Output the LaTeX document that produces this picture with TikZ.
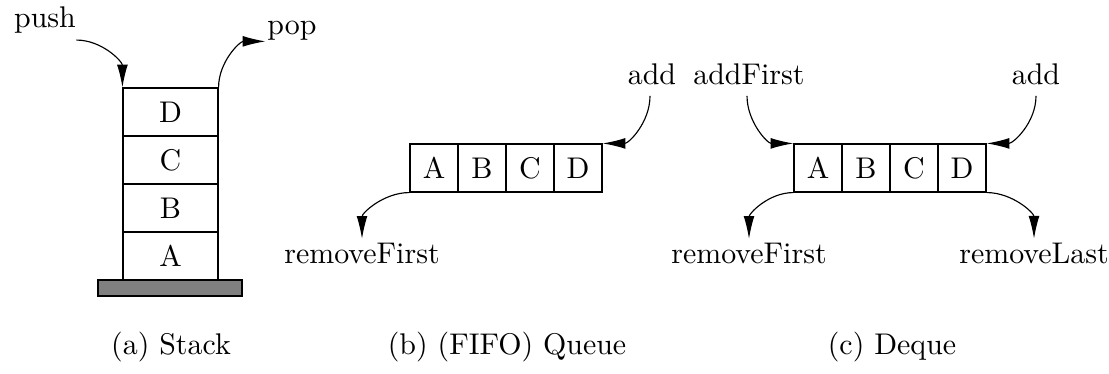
\documentclass[tikz,border=0pt]{standalone}
\usetikzlibrary{arrows.meta}
\begin{document}
\begin{tikzpicture}[x=0.351pt,y=0.351pt,
  every node/.style={font=\fontsize{10.5pt}{12.6pt}\selectfont},
  scell/.style={draw,inner sep=0pt,minimum width=33.35pt,minimum height=16.85pt},
  qcell/.style={draw,inner sep=0pt,minimum width=16.85pt,minimum height=16.85pt},
  lbl/.style={inner sep=1pt,anchor=base},
  arr/.style={-{Latex[length=8pt,width=3.8pt]}}]
\useasboundingbox (0,0) rectangle (1109,374);
% Stack
\node[scell] (sA) at (170.5,118) {A};
\node[scell] (sB) at (170.5,166) {B};
\node[scell] (sC) at (170.5,214) {C};
\node[scell] (sD) at (170.5,262) {D};
\node[draw,fill=gray,inner sep=0pt,minimum width=50.5pt,minimum height=5.6pt] (base) at (170,86) {};
\node[lbl] (push) at (45,346) {push};
\node[lbl] (pop) at (292,339) {pop};
\draw[arr] ([xshift=-1pt,yshift=-1pt]push.south east) to[out=0,in=90] (sD.north west);
\draw[arr] (sD.north east) to[out=90,in=180] ([xshift=0.5pt,yshift=1pt]pop.south west);
% Queue
\node[qcell] (qA) at (434,206) {A};
\node[qcell] (qB) at (482,206) {B};
\node[qcell] (qC) at (530,206) {C};
\node[qcell] (qD) at (578,206) {D};
\node[lbl] (qadd) at (652,289) {add};
\node[lbl] (qrem) at (362,110) {removeFirst};
\draw[arr] ([xshift=-0.7pt,yshift=-2.5pt]qadd.south) to[out=-90,in=0] (qD.north east);
\draw[arr] (qA.south west) to[out=180,in=90] ([yshift=0.5pt]qrem.north);
% Deque
\node[qcell] (dA) at (818,206) {A};
\node[qcell] (dB) at (866,206) {B};
\node[qcell] (dC) at (914,206) {C};
\node[qcell] (dD) at (962,206) {D};
\node[lbl] (dfirst) at (749,289) {addFirst};
\node[lbl] (dadd) at (1036,289) {add};
\node[lbl] (drf) at (749,110) {removeFirst};
\node[lbl] (drl) at (1034,110) {removeLast};
\draw[arr] ([xshift=-0.7pt,yshift=-2.5pt]dfirst.south) to[out=-90,in=180] (dA.north west);
\draw[arr] ([yshift=-2.5pt]dadd.south) to[out=-90,in=0] (dD.north east);
\draw[arr] (dA.south west) to[out=180,in=90] ([yshift=0.5pt]drf.north);
\draw[arr] (dD.south east) to[out=0,in=90] ([yshift=0.5pt]drl.north);
% Captions
\node[lbl] (capa) at (171,19) {(a) Stack};
\node[lbl] (capb) at (507,19) {(b) (FIFO) Queue};
\node[lbl] (capc) at (892,19) {(c) Deque};
\end{tikzpicture}
\end{document}
